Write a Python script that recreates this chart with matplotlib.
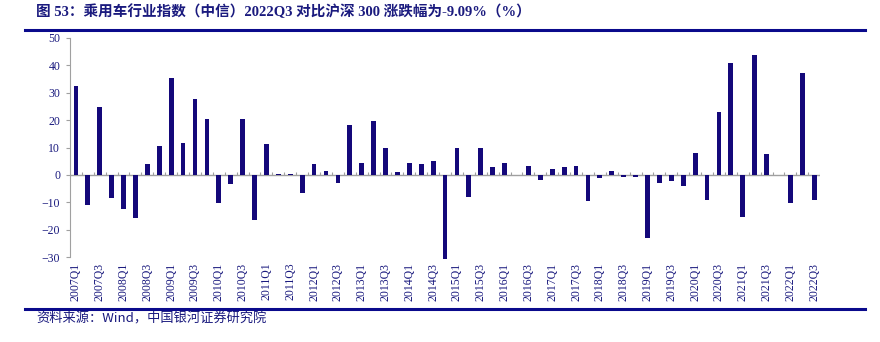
import numpy as np
import matplotlib.pyplot as plt

# 乘用车行业指数（中信）季度相对沪深300涨跌幅
quarters = [f"{y}Q{q}" for y in range(2007, 2023) for q in range(1, 5)][:63]
values = [32.3, -10.9, 24.9, -8.4, -12.4, -15.9, 3.8, 10.4,
          35.5, 11.7, 27.7, 20.4, -10.1, -3.2, 20.4, -16.3,
          11.3, 0.2, 0.3, -6.6, 4.0, 1.6, -2.8, 18.3,
          4.5, 19.8, 9.8, 0.9, 4.4, 3.8, 5.0, -30.9,
          10.0, -8.2, 10.0, 2.7, 4.5, 0.1, 3.3, -1.8,
          2.1, 2.9, 3.4, -9.5, -1.1, 1.3, -0.9, -0.6,
          -23.2, -2.9, -2.3, -4.0, 8.0, -9.3, 22.8, 40.9,
          -15.5, 43.7, 7.7, 0.1, -10.2, 37.2, -9.09]
yticks = list(range(-30, 60, 10))

navy = '#1a1a7e'
bar_color = '#14087a'
grey = '#a0a0a0'

plt.rcParams['font.family'] = ['Liberation Serif', 'Noto Sans CJK SC']

fig = plt.figure(figsize=(8.8, 3.42), dpi=100)
ax = fig.add_axes([0.0795, 0.2485, 0.8525, 0.6404])

x = np.arange(len(values))
bars = ax.bar(x, values, width=0.4, color=bar_color, zorder=3)
for b in bars:
    b.set_clip_on(False)

# 零轴及刻度
ax.axhline(0, color=grey, lw=1, zorder=2)
ax.vlines(np.arange(1, len(values) + 1) - 0.5, 0, 1.1, color=grey, lw=0.8, zorder=2)

ax.set_xlim(-0.5, len(values) - 0.5)
ax.set_ylim(-30, 50)
ax.set_yticks(yticks)
ax.set_xticks(x[::2])
ax.set_xticklabels(quarters[::2], rotation=90, fontsize=8.5, color=navy)
ax.tick_params(axis='x', length=0, pad=4)
ax.tick_params(axis='y', length=3, color=grey, labelsize=8.5, labelcolor=navy, pad=4)

for s in ['top', 'right', 'bottom']:
    ax.spines[s].set_visible(False)
ax.spines['left'].set_color(grey)

# 标题和线
fig.text(0.041, 0.965, '图 53：乘用车行业指数（中信）2022Q3 对比沪深 300 涨跌幅为-9.09%（%）',
         fontsize=10.5, fontweight='bold', color=navy, va='center', ha='left')
fig.add_artist(plt.Line2D([0.028, 0.983], [0.913, 0.913], color='#0a0a8c', lw=2.2))
fig.add_artist(plt.Line2D([0.028, 0.983], [0.097, 0.097], color='#0a0a8c', lw=2.2))
fig.text(0.041, 0.067, '资料来源：Wind，中国银河证券研究院', fontsize=9.5, style='italic',
         family=['Noto Sans CJK SC', 'DejaVu Sans'], color=navy, va='center', ha='left')

fig.savefig('out.png', dpi=100)
